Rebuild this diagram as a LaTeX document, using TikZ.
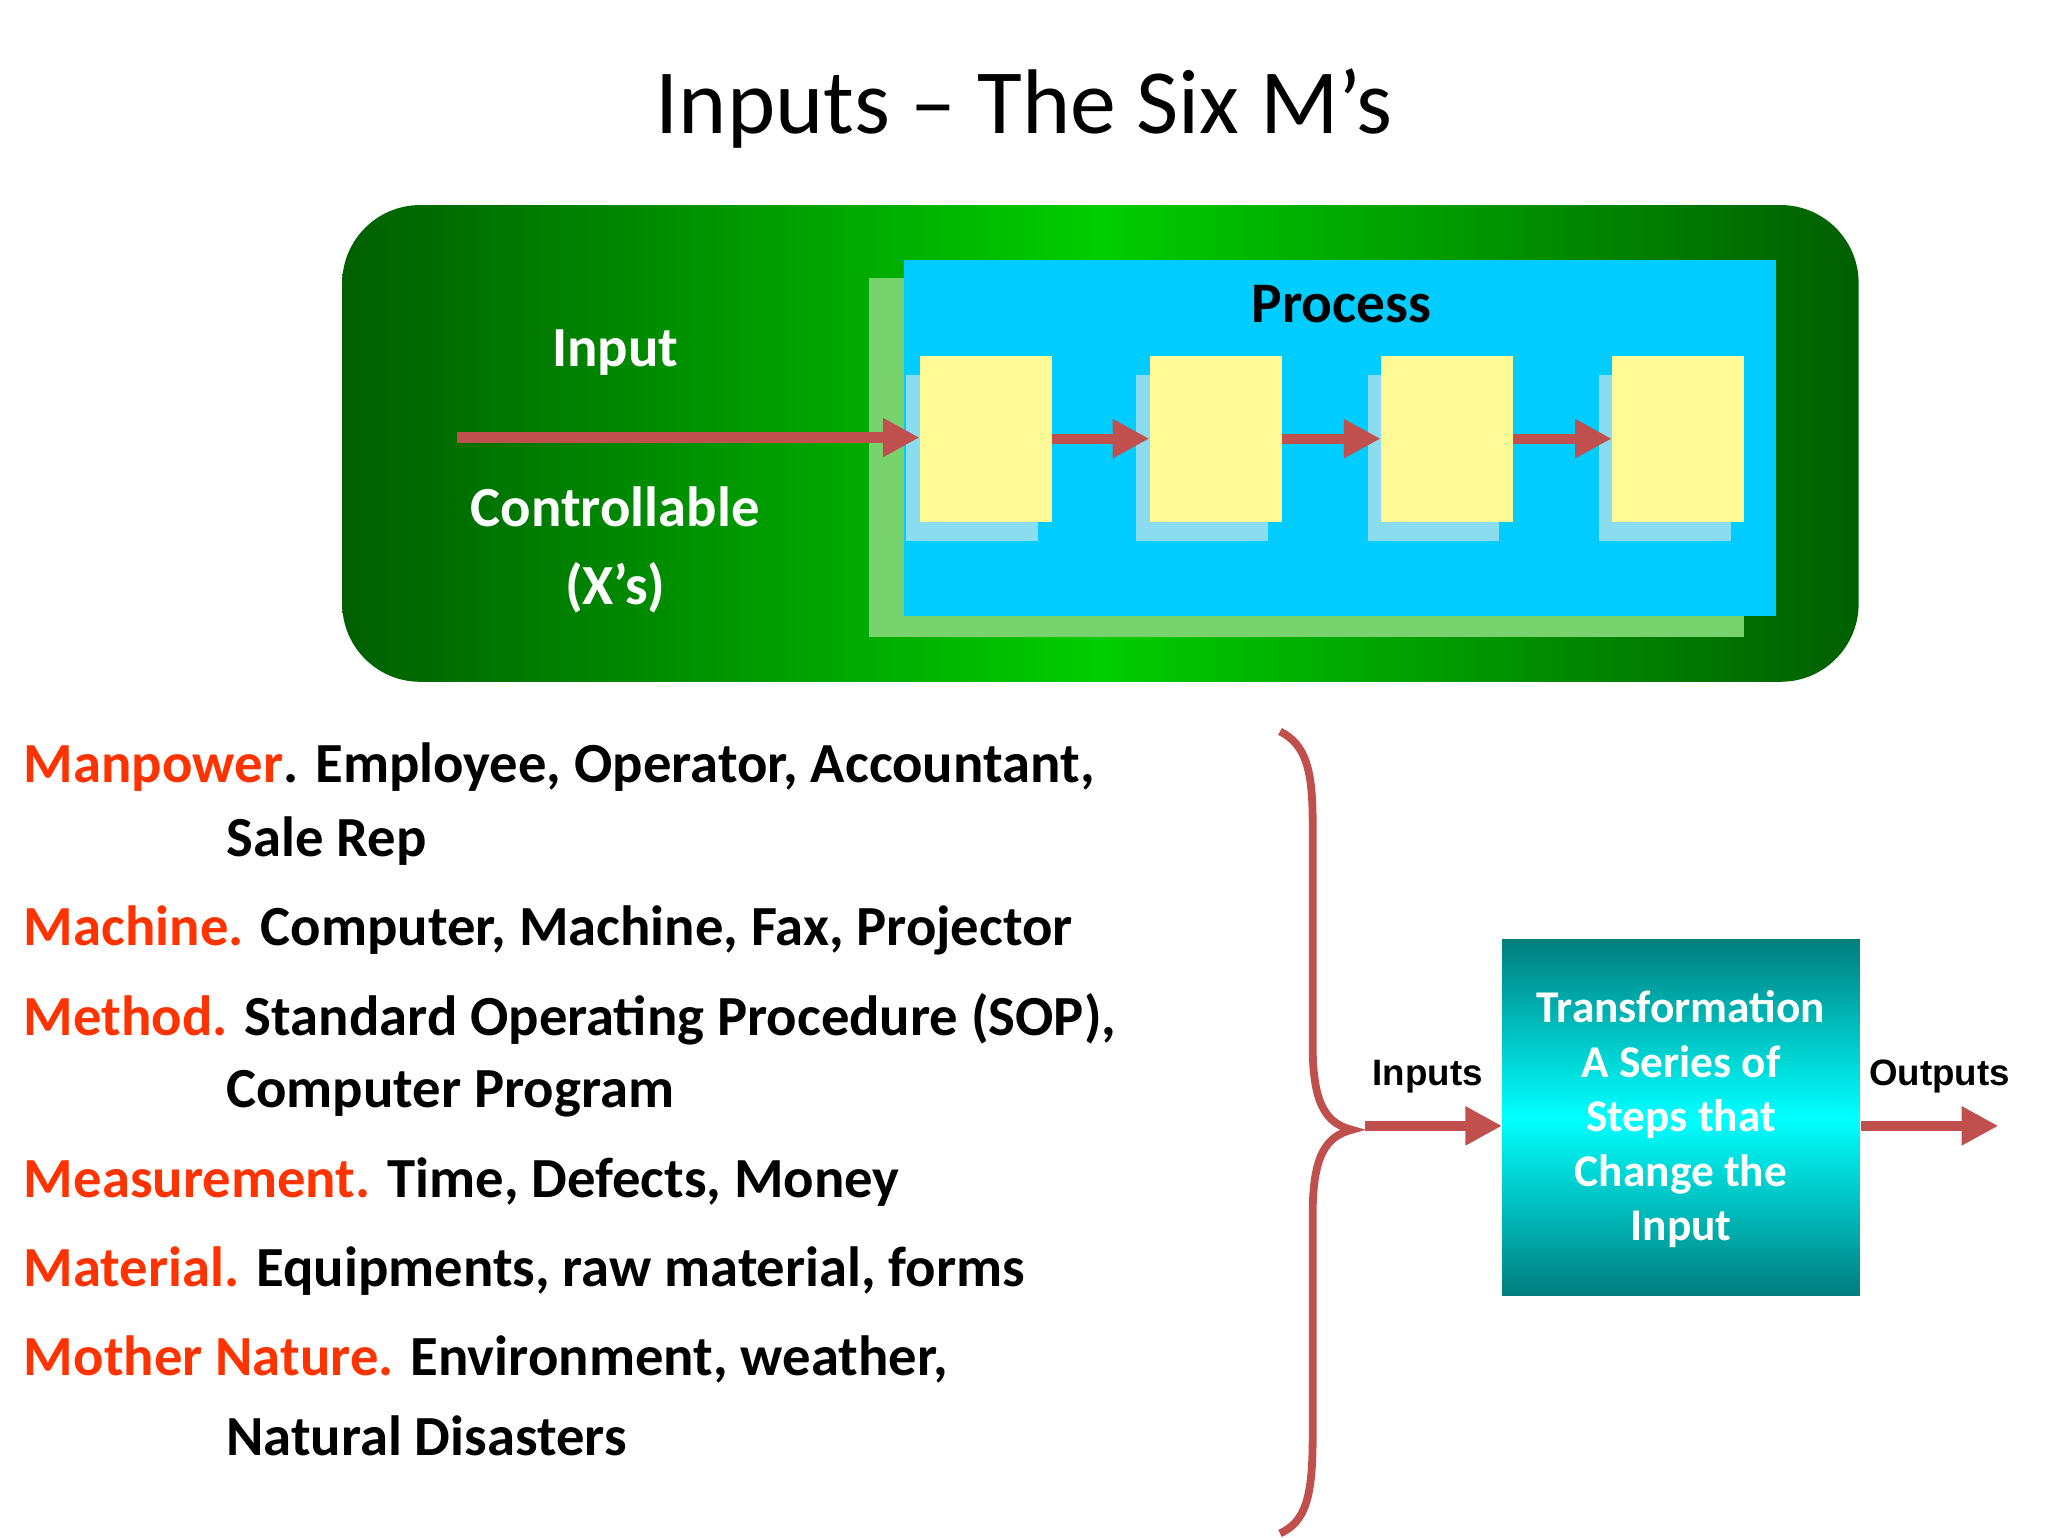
\documentclass[tikz,border=0pt]{standalone}
\usepackage{fontspec}
\setmainfont{Carlito}
\newfontfamily\arialf{Liberation Sans}
\usetikzlibrary{arrows.meta,shadows}
\definecolor{arr}{RGB}{192,80,77}
\definecolor{dkgreen}{RGB}{0,95,0}
\definecolor{brgreen}{RGB}{0,205,0}
\definecolor{ltgreen}{RGB}{120,210,110}
\definecolor{cyanbox}{RGB}{0,204,255}
\definecolor{ylw}{RGB}{255,250,150}
\definecolor{shblue}{RGB}{140,220,240}
\definecolor{keyred}{RGB}{255,51,0}
\definecolor{teal1}{RGB}{0,125,125}
\tikzset{
  arrowline/.style={draw=arr,line width=4.5pt,-{Triangle[length=16pt,width=16pt]}},
  ybox/.style={fill=ylw,draw=none},
  sbox/.style={fill=shblue,draw=none},
  wtxt/.style={text=white,font=\fontsize{24.7}{29}\selectfont\bfseries},
  body/.style={anchor=west,font=\fontsize{24.7}{29}\selectfont\bfseries,inner sep=0pt},
}
\newcommand{\kw}[1]{\textcolor{keyred}{#1}}
\begin{document}
\begin{tikzpicture}[x=0.02cm,y=-0.02cm]
\fill[white] (0,0) rectangle (1568,1176);
\node (title) at (784,83) {\fontsize{40}{48}\selectfont Inputs – The Six M’s};
% green panel
\shade[left color=dkgreen,right color=dkgreen,middle color=brgreen,rounded corners=34pt] (262,157) rectangle (1423,522);
\fill[ltgreen] (665,213) rectangle (1335,488);
\fill[cyanbox] (692,199) rectangle (1360,472);
\node (process) at (1027,233) {\fontsize{25}{29}\selectfont\bfseries Process};
\node[wtxt] (input) at (471,270) {Input};
\node[wtxt] (ctrl) at (471,388) {Controllable};
\node[wtxt] (xs) at (471,450) {(X’s)};
\coordinate (start) at (350,335);
\foreach \i/\x in {1/704,2/880,3/1057,4/1234}{
  \fill[sbox] (\x-10,287) rectangle (\x+91,414);
  \node[ybox,minimum width=101*0.02cm,minimum height=127*0.02cm,inner sep=0pt,anchor=north west] (b\i) at (\x,272) {};
}
\draw[arrowline] (start) -- (start -| b1.west);
\draw[arrowline] (b1.east) -- (b2.west);
\draw[arrowline] (b2.east) -- (b3.west);
\draw[arrowline] (b3.east) -- (b4.west);
% list
\node[body] (l1) at (18,587) {\kw{Manpower}. Employee, Operator, Accountant,};
\node[body] (l1b) at (173,644) {Sale Rep};
\node[body] (l2) at (18,712) {\kw{Machine.} Computer, Machine, Fax, Projector};
\node[body] (l3) at (18,780) {\kw{Method.} Standard Operating Procedure (SOP),};
\node[body] (l3b) at (173,837) {Computer Program};
\node[body] (l4) at (18,905) {\kw{Measurement.} Time, Defects, Money};
\node[body] (l5) at (18,973) {\kw{Material.} Equipments, raw material, forms};
\node[body] (l6) at (18,1041) {\kw{Mother Nature.} Environment, weather,};
\node[body] (l6b) at (173,1099) {Natural Disasters};
% brace
\draw[arr,line width=3.4pt] (980,560) .. controls (1000,570) and (1005,590) .. (1005,630)
  -- (1005,800) .. controls (1005,845) and (1015,860) .. (1035,865)
  .. controls (1015,870) and (1005,885) .. (1005,930)
  -- (1005,1100) .. controls (1005,1145) and (1000,1165) .. (980,1174);
\coordinate (btip) at (1045,862);
% transformation box
\shade[top color=teal1,bottom color=teal1,middle color=cyan] (1150,719) rectangle (1424,992);
\node[minimum width=274*0.02cm,minimum height=273*0.02cm,inner sep=0pt,anchor=north west] (tb) at (1150,719) {};
\node[text=white,font=\fontsize{19.8}{23.8}\selectfont\bfseries,align=center] (tt) at (1287,857)
  {Transformation\\A Series of\\Steps that\\Change the\\Input};
\draw[arrowline] (btip) -- (btip -| tb.west);
\coordinate (oend) at (1530,862);
\draw[arrowline] (btip -| tb.east) -- (oend);
\node[font=\arialf\bfseries\fontsize{16}{19}\selectfont] (inl) at (1093,824) {Inputs};
\node[font=\arialf\bfseries\fontsize{16}{19}\selectfont] (outl) at (1485,824) {Outputs};
\end{tikzpicture}
\end{document}
